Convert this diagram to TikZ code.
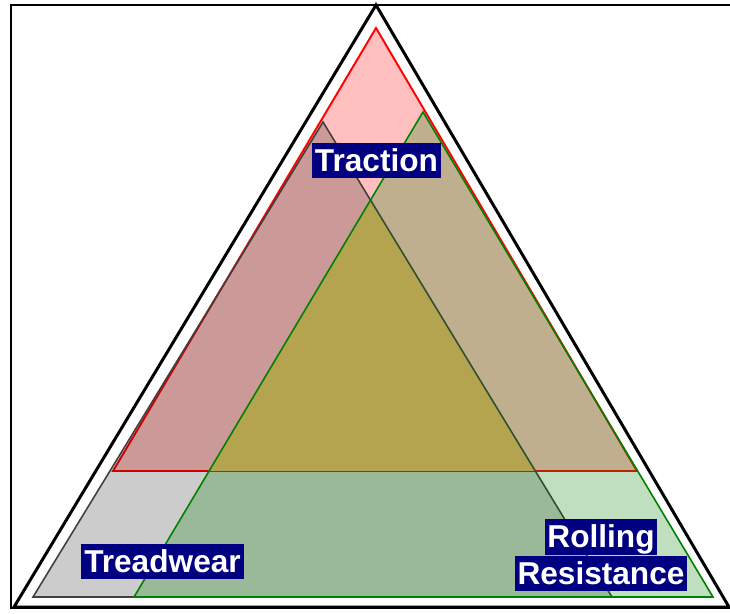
\documentclass[tikz,border=0pt]{standalone}
\usepackage{fontspec}
\setmainfont{Liberation Sans}
\usetikzlibrary{positioning}
\definecolor{LabelNavy}{HTML}{000080}
\definecolor{TracRed}{HTML}{FF0000}
\definecolor{RollGreen}{HTML}{008000}
\definecolor{WearGray}{HTML}{404040}
\definecolor{CoreOlive}{HTML}{F1B16B}
\tikzset{
  tag/.style={fill=LabelNavy, text=white, inner xsep=1.6pt, inner ysep=1.2pt,
    text height=15pt, text depth=3pt, font=\fontsize{18}{20}\selectfont\bfseries},
  tracarea/.style={fill=TracRed, fill opacity=0.25, draw=TracRed, line width=1.1pt},
  weararea/.style={fill=black, fill opacity=0.2},
  rollarea/.style={fill=RollGreen, fill opacity=0.25, draw=RollGreen, line width=0.9pt},
  rim/.style={draw=black, line width=1.7pt},
}

\begin{document}
\begin{tikzpicture}[x=0.02cm, y=-0.02cm]
    \clip (0,0) rectangle (730,613);
    \draw[line width=0.9pt] (11,5) rectangle (745,608);
    \coordinate (t1) at (376,28);  \coordinate (t2) at (113,471); \coordinate (t3) at (637,471);
    \coordinate (w1) at (323,122); \coordinate (w2) at (33,597);  \coordinate (w3) at (612,597);
    \coordinate (r1) at (423,112); \coordinate (r2) at (134,597); \coordinate (r3) at (713,597);
    \path[tracarea] (t1) -- (t2) -- (t3) -- cycle;
    \fill[weararea] (w1) -- (w2) -- (w3) -- cycle;
    \begin{scope}
      \clip (t1) -- (t2) -- (t3) -- cycle;
      \clip (w1) -- (w2) -- (w3) -- cycle;
      \fill[CoreOlive] (r1) -- (r2) -- (r3) -- cycle;
    \end{scope}
    \draw[WearGray, line width=0.9pt] (w1) -- (w2) -- (w3) -- cycle;
    \path[rollarea] (r1) -- (r2) -- (r3) -- cycle;
    \draw[rim] (376,5) -- (14,607) -- (729,607) -- cycle;
    \node[tag] (trac) at (376.5,160.5) {Traction};
    \node[tag] (wear) at (162.5,561.5) {Treadwear};
    \node[tag] (rollA) at (601,537) {Rolling};
    \node[tag, below=0pt of rollA] (rollB) {Resistance};
  \end{tikzpicture}
\end{document}
